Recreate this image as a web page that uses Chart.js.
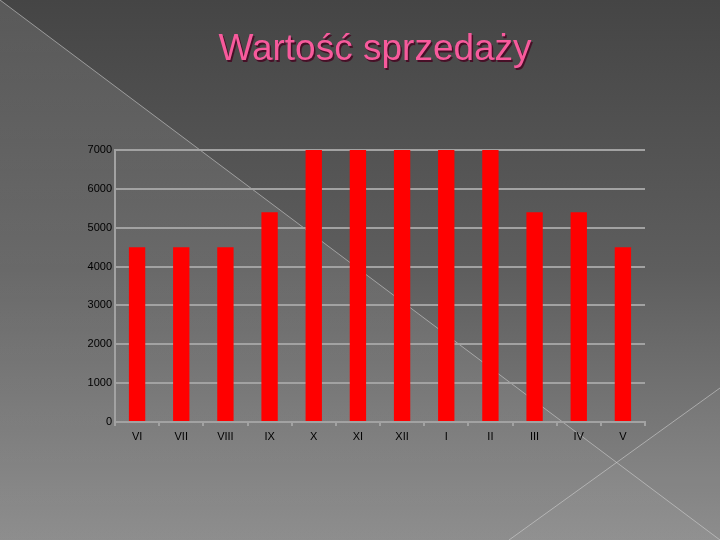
<!DOCTYPE html>
<html>
<head>
<meta charset="utf-8">
<script src="https://cdn.jsdelivr.net/npm/chart.js@4/dist/chart.umd.min.js"></script>
<style>
  html, body { margin: 0; padding: 0; background: #5a5a5a; }
  #wrap { width: 720px; height: 540px; position: relative; }
</style>
</head>
<body>
<div id="wrap"><canvas id="c" width="720" height="540"></canvas></div>
<script>
// ---- data ----
const titleText = 'Wartość sprzedaży';
const months = ['VI', 'VII', 'VIII', 'IX', 'X', 'XI', 'XII', 'I', 'II', 'III', 'IV', 'V'];
const salesValues = [4500, 4500, 4500, 5400, 7000, 7000, 7000, 7000, 7000, 5400, 5400, 4500];
const yTickMin = 0;
const yTickMax = 7000;
const yTickStep = 1000;

// ---- style constants ----
const TITLE_SIZE = 37;
const TITLE_PAD_TOP = 28;
const TITLE_PAD_BOTTOM = 150 - TITLE_PAD_TOP - TITLE_SIZE * 1.2;
const GRID = '#a2a2a2';

const backgroundPlugin = {
  id: 'slideBackground',
  afterLayout(chart) {
    const tb = chart.titleBlock;
    if (tb) { tb.left = 30; tb.right = 720; tb.width = 690; }
  },
  beforeDraw(chart) {
    const ctx = chart.ctx;
    const W = chart.width, H = chart.height;
    ctx.save();
    let g = ctx.createLinearGradient(0, 0, 0, H);
    g.addColorStop(0, '#454545');
    g.addColorStop(0.5, '#5e5e5e');
    g.addColorStop(1, '#8a8a8a');
    ctx.fillStyle = g;
    ctx.fillRect(0, 0, W, H);
    g = ctx.createLinearGradient(0, 0, 0, H);
    g.addColorStop(0, 'rgba(255,255,255,0.11)');
    g.addColorStop(1, 'rgba(255,255,255,0.03)');
    ctx.fillStyle = g;
    ctx.beginPath();
    ctx.moveTo(0, 0);
    ctx.lineTo(W, H);
    ctx.lineTo(0, H);
    ctx.closePath();
    ctx.fill();
    ctx.fillStyle = 'rgba(255,255,255,0.03)';
    ctx.beginPath();
    ctx.moveTo(509, H);
    ctx.lineTo(W, 388);
    ctx.lineTo(W, H);
    ctx.closePath();
    ctx.fill();
    ctx.strokeStyle = 'rgba(215,215,215,0.55)';
    ctx.lineWidth = 1;
    ctx.beginPath();
    ctx.moveTo(0, 0);
    ctx.lineTo(W, H);
    ctx.moveTo(509, H);
    ctx.lineTo(W, 388);
    ctx.stroke();
    const tb = chart.titleBlock;
    if (tb) {
      const cx = (tb.left + tb.right) / 2;
      const cy = tb.top + TITLE_PAD_TOP + TITLE_SIZE * 1.2 / 2;
      ctx.font = TITLE_SIZE + 'px "Liberation Sans", Arial, sans-serif';
      ctx.textAlign = 'center';
      ctx.textBaseline = 'middle';
      ctx.fillStyle = 'rgba(70,10,35,0.9)';
      ctx.fillText(titleText, cx + 1.5, cy + 1.5);
    }
    ctx.restore();
  }
};

new Chart(document.getElementById('c'), {
  type: 'bar',
  data: {
    labels: months,
    datasets: [{
      label: titleText,
      data: salesValues,
      backgroundColor: '#ff0000',
      borderWidth: 0,
      categoryPercentage: 1,
      barPercentage: 0.37
    }]
  },
  options: {
    responsive: false,
    animation: false,
    devicePixelRatio: 1,
    layout: { padding: { left: 60, right: 75, top: 0, bottom: 0 } },
    plugins: {
      legend: { display: false },
      tooltip: { enabled: false },
      title: {
        display: true,
        text: titleText,
        color: '#f75a9c',
        font: { family: '"Liberation Sans", Arial, sans-serif', size: TITLE_SIZE, weight: 'normal' },
        padding: { top: TITLE_PAD_TOP, bottom: TITLE_PAD_BOTTOM }
      }
    },
    scales: {
      x: {
        offset: true,
        grid: {
          display: true,
          drawOnChartArea: false,
          drawTicks: true,
          tickLength: 4,
          color: GRID,
          lineWidth: 2,
          offset: true
        },
        border: { display: true, color: GRID, width: 2 },
        ticks: {
          color: '#000000',
          font: { family: '"Liberation Sans", Arial, sans-serif', size: 11 },
          padding: 4,
          maxRotation: 0,
          autoSkip: false
        },
        afterFit(scale) { scale.height = 118; }
      },
      y: {
        min: yTickMin,
        max: yTickMax,
        grid: {
          color: GRID,
          lineWidth: 2,
          drawTicks: false
        },
        border: { display: true, color: GRID, width: 2 },
        ticks: {
          stepSize: yTickStep,
          color: '#000000',
          font: { family: '"Liberation Sans", Arial, sans-serif', size: 11 },
          padding: 3,
          callback: (v) => String(v)
        },
        afterFit(scale) { scale.width = 55; }
      }
    }
  },
  plugins: [backgroundPlugin]
});
</script>
</body>
</html>
